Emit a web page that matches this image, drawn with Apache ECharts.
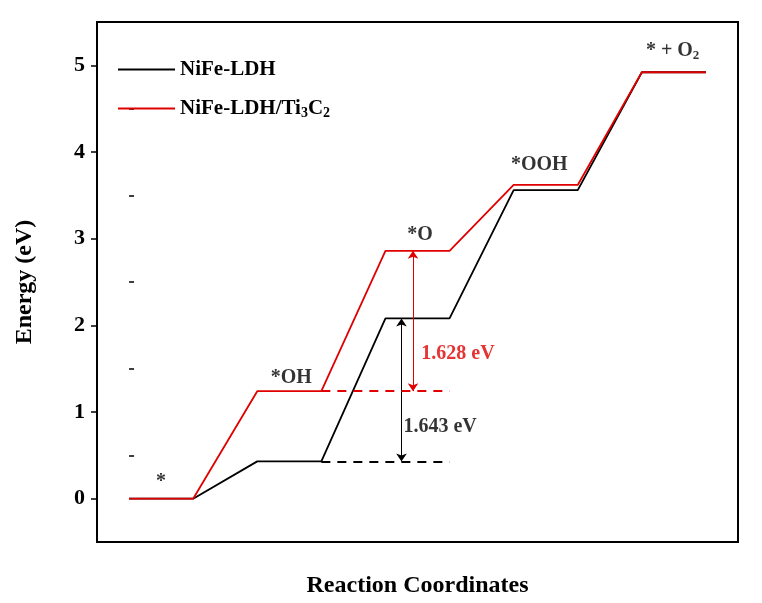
<!DOCTYPE html><html><head><meta charset="utf-8"><script src="https://cdn.jsdelivr.net/npm/echarts@6/dist/echarts.min.js"></script></head><body style="margin:0"><div id="c" style="width:762px;height:603px"></div><script>
const steps=[0,1,2,3,4];
const ldh=[0,0.43,2.08,3.56,4.92];
const ti=[0,1.24,2.86,3.62,4.92];
const yTicks=[0,1,2,3,4,5];
const yMinor=[-0.5,0.5,1.5,2.5,3.5,4.5];
const stateLabels=[{t:'*',x:0.5,y:0.2},{t:'*OH',x:2.53,y:1.4},{t:'*O',x:4.54,y:3.04},{t:'*OOH',x:6.4,y:3.85},{t:'* + O{s|2}',x:8.48,y:5.17}];
function pts(v){const r=[];steps.forEach(i=>{r.push([2*i,v[i]]);r.push([2*i+1,v[i]]);});return r;}
const F='Liberation Serif';
const c=echarts.init(document.getElementById('c'));
c.setOption({
animation:false,
grid:{left:97,top:22,right:24,bottom:57,show:true,borderColor:'#000',borderWidth:2,backgroundColor:'transparent'},
legend:{orient:'vertical',left:113,top:54,itemWidth:57,itemHeight:2,itemGap:18,icon:'rect',
 textStyle:{fontFamily:F,fontWeight:'bold',fontSize:21,color:'#000',rich:{s:{fontFamily:F,fontWeight:'bold',fontSize:14,verticalAlign:'bottom',padding:[10,0,0,0]}}},
 formatter:n=>n==='NiFe-LDH'?n:'NiFe-LDH/Ti{s|3}C{s|2}',
 data:['NiFe-LDH','NiFe-LDH/Ti3C2']},
xAxis:{type:'value',min:-0.5,max:9.5,name:'Reaction Coordinates',nameLocation:'middle',nameGap:32,
 nameTextStyle:{fontFamily:F,fontWeight:'bold',fontSize:24,color:'#000'},
 axisLine:{onZero:false,lineStyle:{color:'#000',width:2}},axisTick:{show:false},axisLabel:{show:false},splitLine:{show:false}},
yAxis:[{type:'value',min:-0.5,max:5.5,name:'Energy (eV)',nameLocation:'middle',nameGap:60,
 nameTextStyle:{fontFamily:F,fontWeight:'bold',fontSize:24,color:'#000'},
 axisLine:{onZero:false,lineStyle:{color:'#000',width:2}},axisTick:{customValues:yTicks,length:6,lineStyle:{width:1.5}},
 axisLabel:{customValues:yTicks,fontFamily:F,fontWeight:'bold',fontSize:22,color:'#000',margin:12},splitLine:{show:false}},
 {type:'value',position:'left',min:-0.5,max:5.5,axisLine:{show:false},axisTick:{show:true,inside:true,customValues:yMinor,length:5,lineStyle:{color:'#000',width:1.5}},axisLabel:{show:false},splitLine:{show:false}}],
series:[
{name:'NiFe-LDH',type:'line',data:pts(ldh),symbol:'none',lineStyle:{color:'#000',width:1.8},itemStyle:{color:'#000'},
 markLine:{silent:true,label:{show:false},data:[
  [{coord:[3,ldh[1]],symbol:'none',lineStyle:{type:[9,7],color:'#000',width:1.8}},{coord:[5,ldh[1]],symbol:'none'}],
  [{coord:[4.25,ldh[1]],symbol:'arrow',symbolSize:8,lineStyle:{type:'solid',color:'#000',width:1}},{coord:[4.25,ldh[2]],symbol:'arrow',symbolSize:8}]
 ]}},
{name:'NiFe-LDH/Ti3C2',type:'line',data:pts(ti),symbol:'none',lineStyle:{color:'#e00000',width:1.8},itemStyle:{color:'#e00000'},
 markLine:{silent:true,label:{show:false},data:[
  [{coord:[3,ti[1]],symbol:'none',lineStyle:{type:[9,7],color:'#e00000',width:1.8}},{coord:[5,ti[1]],symbol:'none'}],
  [{coord:[4.43,ti[1]],symbol:'arrow',symbolSize:8,lineStyle:{type:'solid',color:'#e00000',width:1}},{coord:[4.43,ti[2]],symbol:'arrow',symbolSize:8}]
 ]}},
{type:'scatter',symbolSize:0,silent:true,data:stateLabels.map(s=>({value:[s.x,s.y],name:s.t})),
 label:{show:true,position:'inside',formatter:p=>p.name,fontFamily:F,fontWeight:'bold',fontSize:20,color:'#000',
  rich:{s:{fontFamily:F,fontWeight:'bold',fontSize:13,color:'#000',padding:[10,0,0,0]}}}},
{type:'scatter',symbolSize:0,silent:true,data:[{value:[4.56,1.67],name:'1.628 eV',c:'#e00000'},{value:[4.28,0.83],name:'1.643 eV',c:'#000'}].map(d=>({value:d.value,name:d.name,label:{color:d.c}})),
 label:{show:true,position:'right',distance:0,formatter:p=>p.name,fontFamily:F,fontWeight:'bold',fontSize:20}}
]});
</script></body></html>
